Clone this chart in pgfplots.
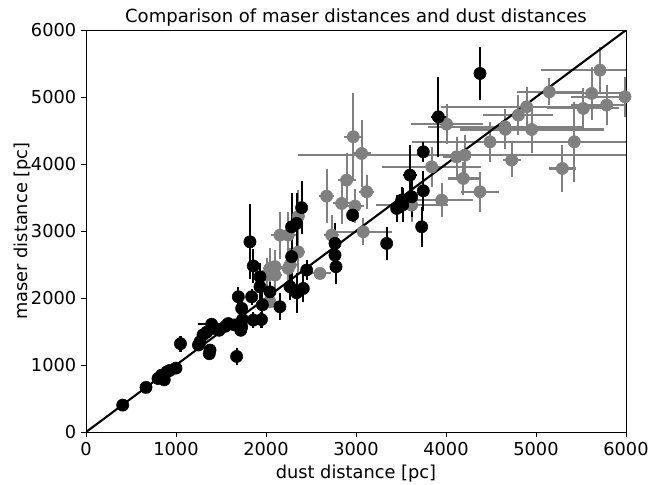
\documentclass[border=0pt]{standalone}
\usepackage{pgfplots}
\pgfplotsset{compat=1.18}
\usepackage{pgfplotstable}
\usepackage{fontspec}
\setmainfont{DejaVu Sans}

\definecolor{mplgray}{HTML}{808080}

% x y xerr yerr
\pgfplotstableread{
x y ex ey
2044 1945 60 100
2007 2343 80 250
2044 2443 80 300
2100 2343 80 250
2100 2470 80 250
2155 2940 100 350
2248 2940 100 350
2248 2443 80 250
2359 3219 80 400
2359 2690 80 350
2270 2500 80 250
2600 2368 120 80
2674 3522 80 400
2730 2940 80 300
2841 3413 100 300
2896 3761 100 400
2970 4408 100 650
2989 3373 100 250
3063 4159 100 500
3081 2990 320 200
3119 3587 80 250
3619 3388 400 250
3841 3960 550 300
3952 3463 350 250
4007 4597 400 300
4119 4109 150 300
4211 4134 1850 300
4193 3786 170 250
4378 3587 210 300
4489 4333 300 300
4656 4557 860 250
4660 4520 400 300
4730 4060 100 250
4804 4731 390 300
4896 4856 950 300
4952 4517 800 350
5148 5079 360 200
5293 3935 150 350
5426 4333 1800 600
5526 4831 400 300
5619 5055 600 400
5711 5403 650 350
5785 4881 400 300
5989 5005 600 300
}\graydata

\pgfplotstableread{
x y ex ey
408 403 0 40
667 667 0 40
800 800 0 50
840 850 0 50
870 780 0 60
900 900 0 50
930 920 0 40
1000 955 0 50
1050 1320 0 120
1250 1300 0 60
1267 1348 0 60
1300 1450 0 60
1340 1490 0 60
1370 1170 0 70
1378 1224 0 70
1396 1610 150 80
1420 1550 0 60
1480 1520 0 60
1550 1580 0 60
1580 1620 0 60
1650 1600 0 60
1674 1129 0 130
1693 2020 0 150
1720 1520 0 80
1730 1570 0 80
1730 1846 0 120
1740 1680 0 100
1822 2840 0 560
1841 2020 0 120
1859 1672 80 120
1859 2480 0 250
1933 2318 0 200
1933 2169 0 200
1950 1680 0 120
1960 1900 0 200
2044 2094 0 150
2155 1871 0 200
2267 2169 0 200
2285 3064 0 500
2285 2620 0 500
2341 3115 0 450
2341 2080 0 300
2396 3350 0 400
2415 2144 0 200
2452 2418 0 150
2767 2816 0 300
2767 2641 0 250
2778 2468 0 250
2963 3239 0 100
3341 2816 0 250
3452 3338 0 200
3508 3463 0 200
3519 3390 0 250
3600 3836 80 450
3619 3512 0 300
3730 3065 0 300
3748 3602 0 300
3748 4184 0 150
3915 4706 80 600
4378 5353 0 400
}\blackdata

\begin{document}
\begin{tikzpicture}
  \begin{axis}[
    scale only axis,
    width=388.8pt, height=289.4pt,
    xmin=0, xmax=6000, ymin=0, ymax=6000,
    xtick={0,1000,...,6000}, ytick={0,1000,...,6000},
    tick align=outside, xtick pos=lower, ytick pos=left,
    major tick length=3.5pt,
    tick style={black, line width=0.6pt},
    axis line style={line width=0.6pt},
    /pgf/number format/1000 sep={},
    /pgf/number format/assume math mode=true,
    ticklabel style={font=\fontsize{12.8}{15}\selectfont},
    label style={font=\fontsize{12.8}{15}\selectfont},
    xlabel={dust distance [pc]},
    ylabel={maser distance [pc]},
    xlabel style={yshift=0pt},
    ylabel style={yshift=-7pt},
    title={Comparison of maser distances and dust distances},
    title style={font=\fontsize{13}{15}\selectfont, yshift=-6.5pt},
    clip=true,
  ]
    \addplot[only marks, mark=*, mark size=4.4pt,
             color=mplgray, mark options={draw=mplgray, fill=mplgray},
             error bars/.cd,
               x dir=both, x explicit, y dir=both, y explicit,
               error mark=none,
               error bar style={line width=1.5pt, mplgray}]
      table[x=x, y=y, x error=ex, y error=ey] {\graydata};
    \addplot[only marks, mark=*, mark size=4.4pt,
             color=black, mark options={draw=black, fill=black},
             error bars/.cd,
               x dir=both, x explicit, y dir=both, y explicit,
               error mark=none,
               error bar style={line width=1.5pt, black}]
      table[x=x, y=y, x error=ex, y error=ey] {\blackdata};
    \addplot[black, line width=1.5pt, no marks] coordinates {(0,0) (6000,6000)};
  \end{axis}
  \pgfresetboundingbox
  \path[use as bounding box] (-61.9pt,-37.4pt) rectangle (416.9pt,311.1pt);
\end{tikzpicture}
\end{document}
